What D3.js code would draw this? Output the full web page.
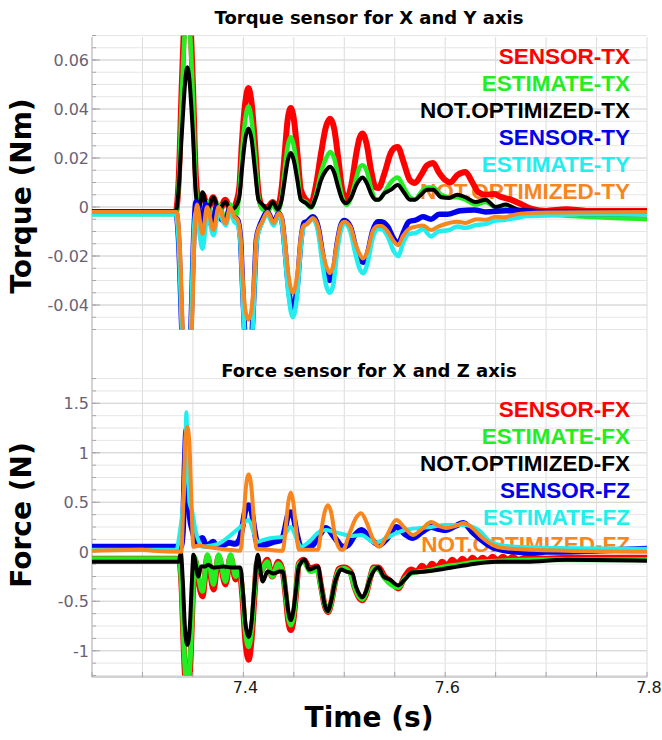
<!DOCTYPE html>
<html>
<head>
<meta charset="utf-8">
<script src="https://cdn.jsdelivr.net/npm/d3@7"></script>
<style>
  body { margin: 0; background: #fff; }
  svg { display: block; }
</style>
</head>
<body>
<svg id="chart"></svg>
<script>
// Torque panel series: [time (s), torque (Nm)]
var sensorTX = [
  [7.250,-0.002],[7.333,-0.002],[7.336,0.012],[7.339,0.05],[7.3445,0.095],[7.350,0.05],[7.353,0.012],
  [7.356,0.002],[7.360,0.005],[7.365,-0.001],[7.370,0.004],[7.376,-0.002],[7.382,0.003],[7.388,-0.002],
  [7.393,0.002],[7.396,0.008],[7.3985,0.026],[7.402,0.043],[7.405,0.0486],[7.408,0.043],[7.4115,0.026],
  [7.415,0.006],[7.419,0.0],[7.424,0.0],[7.429,0.002],[7.434,0.0],[7.438,0.008],[7.441,0.022],
  [7.444,0.036],[7.447,0.0404],[7.450,0.036],[7.4535,0.022],[7.457,0.007],[7.462,0.003],[7.467,0.0016],
  [7.472,0.009],[7.477,0.022],[7.482,0.033],[7.486,0.036],[7.490,0.032],[7.494,0.02],[7.498,0.007],
  [7.502,0.003],[7.507,0.009],[7.512,0.022],[7.515,0.028],[7.518,0.030],[7.522,0.026],[7.527,0.014],
  [7.531,0.008],[7.534,0.0078],[7.540,0.014],[7.546,0.022],[7.550,0.0242],[7.553,0.0245],[7.559,0.018],
  [7.565,0.011],[7.570,0.0098],[7.576,0.013],[7.582,0.017],[7.588,0.018],[7.594,0.014],[7.600,0.011],
  [7.605,0.010],[7.612,0.013],[7.620,0.0143],[7.627,0.010],[7.633,0.006],[7.640,0.005],[7.648,0.0053],
  [7.656,0.004],[7.665,0.003],[7.676,0.001],[7.686,-0.0008],[7.700,-0.0016],[7.720,-0.0009],
  [7.740,-0.0016],[7.800,-0.0016]
];
var estimateTX = [
  [7.250,-0.003],[7.333,-0.003],[7.336,0.01],[7.339,0.045],[7.3445,0.082],[7.350,0.045],[7.353,0.008],
  [7.356,-0.002],[7.3595,-0.006],[7.3644,0.002],[7.3704,-0.006],[7.3754,0.001],[7.3823,-0.005],
  [7.3873,0.001],[7.3923,-0.004],[7.396,0.006],[7.3985,0.021],[7.402,0.036],[7.405,0.041],[7.408,0.036],
  [7.4115,0.021],[7.415,0.004],[7.419,-0.001],[7.424,-0.002],[7.429,0.001],[7.434,-0.002],[7.438,0.004],
  [7.441,0.015],[7.444,0.025],[7.447,0.0286],[7.450,0.025],[7.4535,0.015],[7.457,0.003],[7.462,0.002],
  [7.467,-0.0004],[7.472,0.005],[7.477,0.014],[7.482,0.02],[7.486,0.0225],[7.490,0.02],[7.494,0.012],
  [7.498,0.004],[7.502,0.0008],[7.507,0.004],[7.512,0.012],[7.515,0.016],[7.518,0.017],[7.522,0.015],
  [7.527,0.007],[7.531,0.003],[7.534,0.003],[7.540,0.006],[7.546,0.010],[7.553,0.012],[7.559,0.008],
  [7.565,0.004],[7.570,0.003],[7.576,0.006],[7.582,0.008],[7.588,0.008],[7.596,0.005],[7.604,0.004],
  [7.612,0.004],[7.620,0.003],[7.630,0.001],[7.640,0.002],[7.650,0.0],[7.660,0.0],[7.680,-0.002],
  [7.700,-0.003],[7.740,-0.004],[7.800,-0.005]
];
var notOptTX = [
  [7.250,-0.002],[7.333,-0.002],[7.336,0.008],[7.339,0.03],[7.3445,0.057],[7.350,0.03],[7.353,0.005],
  [7.356,-0.001],[7.3595,0.006],[7.3644,-0.001],[7.3704,0.004],[7.3754,-0.001],[7.3823,0.002],
  [7.3873,-0.001],[7.392,0.0],[7.396,0.004],[7.3985,0.015],[7.402,0.028],[7.405,0.032],[7.408,0.028],
  [7.4115,0.015],[7.415,0.003],[7.419,0.001],[7.424,-0.001],[7.429,0.002],[7.434,-0.001],[7.438,0.003],
  [7.441,0.011],[7.444,0.019],[7.447,0.022],[7.450,0.019],[7.4535,0.011],[7.457,0.003],[7.462,0.0016],
  [7.467,0.0],[7.472,0.004],[7.477,0.011],[7.482,0.015],[7.486,0.0164],[7.490,0.014],[7.494,0.008],
  [7.498,0.003],[7.502,0.0016],[7.507,0.004],[7.512,0.009],[7.515,0.011],[7.518,0.012],[7.522,0.010],
  [7.527,0.005],[7.531,0.003],[7.534,0.003],[7.540,0.0057],[7.546,0.007],[7.553,0.009],[7.559,0.006],
  [7.565,0.003],[7.570,0.003],[7.576,0.005],[7.582,0.007],[7.588,0.007],[7.596,0.004],[7.604,0.0037],
  [7.612,0.005],[7.620,0.004],[7.630,0.002],[7.640,0.003],[7.650,0.0],[7.660,0.001],[7.672,-0.001],
  [7.680,-0.0012],[7.700,-0.002],[7.740,-0.003],[7.800,-0.003]
];
var sensorTY = [
  [7.250,-0.002],[7.333,-0.002],[7.336,-0.015],[7.339,-0.05],[7.3435,-0.09],[7.348,-0.05],[7.351,-0.01],
  [7.353,0.002],[7.357,-0.003],[7.3595,-0.008],[7.3625,0.001],[7.367,-0.006],[7.370,-0.008],[7.373,0.0],
  [7.378,-0.005],[7.3823,-0.006],[7.386,-0.001],[7.390,-0.004],[7.394,-0.005],[7.397,-0.012],
  [7.3995,-0.035],[7.402,-0.055],[7.405,-0.06],[7.408,-0.055],[7.4105,-0.035],[7.413,-0.013],
  [7.416,-0.008],[7.418,-0.006],[7.424,-0.002],[7.430,-0.0065],[7.435,-0.0025],[7.438,-0.005],
  [7.441,-0.016],[7.4445,-0.032],[7.449,-0.042],[7.4535,-0.032],[7.457,-0.014],[7.460,-0.0065],
  [7.463,-0.006],[7.469,-0.004],[7.474,-0.008],[7.478,-0.018],[7.482,-0.027],[7.4855,-0.030],
  [7.489,-0.027],[7.493,-0.015],[7.497,-0.007],[7.500,-0.0055],[7.506,-0.008],[7.511,-0.016],
  [7.515,-0.021],[7.5187,-0.0225],[7.523,-0.019],[7.528,-0.01],[7.533,-0.006],[7.5366,-0.006],
  [7.543,-0.008],[7.549,-0.013],[7.5535,-0.015],[7.558,-0.011],[7.564,-0.006],[7.571,-0.0053],
  [7.578,-0.004],[7.586,-0.005],[7.594,-0.003],[7.602,-0.003],[7.615,-0.0015],[7.629,-0.0012],
  [7.640,-0.002],[7.660,-0.0015],[7.700,-0.002],[7.800,-0.002]
];
var estimateTY = [
  [7.250,-0.003],[7.333,-0.003],[7.336,-0.015],[7.339,-0.05],[7.3435,-0.09],[7.348,-0.05],[7.351,-0.01],
  [7.353,-0.002],[7.3595,-0.017],[7.3645,-0.003],[7.3704,-0.0115],[7.3754,-0.002],[7.3823,-0.0075],
  [7.387,-0.002],[7.391,-0.006],[7.394,-0.007],[7.397,-0.014],[7.3995,-0.038],[7.402,-0.058],
  [7.405,-0.065],[7.408,-0.058],[7.4105,-0.038],[7.413,-0.015],[7.416,-0.009],[7.418,-0.007],
  [7.424,-0.003],[7.430,-0.0075],[7.435,-0.003],[7.438,-0.006],[7.441,-0.018],[7.4445,-0.035],
  [7.449,-0.045],[7.4535,-0.035],[7.457,-0.016],[7.460,-0.008],[7.463,-0.007],[7.469,-0.005],
  [7.474,-0.01],[7.478,-0.022],[7.482,-0.032],[7.4855,-0.035],[7.489,-0.032],[7.493,-0.018],
  [7.497,-0.009],[7.500,-0.0065],[7.506,-0.01],[7.511,-0.019],[7.515,-0.025],[7.5187,-0.027],
  [7.523,-0.023],[7.528,-0.013],[7.533,-0.009],[7.5366,-0.009],[7.543,-0.012],[7.549,-0.018],
  [7.5535,-0.020],[7.558,-0.015],[7.564,-0.011],[7.571,-0.0106],[7.578,-0.009],[7.586,-0.012],
  [7.593,-0.010],[7.604,-0.0094],[7.612,-0.008],[7.620,-0.0085],[7.631,-0.0073],[7.640,-0.007],
  [7.650,-0.0055],[7.658,-0.0053],[7.670,-0.0045],[7.681,-0.0037],[7.700,-0.0035],[7.730,-0.003],
  [7.800,-0.003]
];
var notOptTY = [
  [7.250,-0.002],[7.334,-0.002],[7.337,-0.015],[7.340,-0.05],[7.345,-0.085],[7.349,-0.05],[7.352,-0.008],
  [7.354,0.001],[7.3595,-0.011],[7.364,0.0],[7.3704,-0.0095],[7.3754,0.0],[7.3823,-0.0066],[7.387,0.0],
  [7.391,-0.004],[7.394,-0.005],[7.397,-0.011],[7.3995,-0.03],[7.402,-0.042],[7.405,-0.046],
  [7.408,-0.042],[7.4105,-0.03],[7.413,-0.012],[7.416,-0.008],[7.418,-0.0065],[7.424,-0.002],
  [7.430,-0.0065],[7.435,-0.0025],[7.438,-0.004],[7.441,-0.013],[7.4445,-0.027],[7.449,-0.035],
  [7.4535,-0.027],[7.457,-0.012],[7.460,-0.0075],[7.463,-0.007],[7.469,-0.0045],[7.474,-0.008],
  [7.478,-0.017],[7.482,-0.024],[7.4855,-0.027],[7.489,-0.024],[7.493,-0.014],[7.497,-0.007],
  [7.500,-0.006],[7.506,-0.008],[7.511,-0.015],[7.515,-0.019],[7.5187,-0.021],[7.523,-0.018],
  [7.528,-0.01],[7.533,-0.0078],[7.5366,-0.0078],[7.543,-0.01],[7.549,-0.014],[7.5535,-0.0155],
  [7.558,-0.012],[7.564,-0.009],[7.571,-0.008],[7.578,-0.0075],[7.586,-0.0094],[7.593,-0.008],
  [7.604,-0.0065],[7.612,-0.006],[7.620,-0.0065],[7.631,-0.005],[7.640,-0.0052],[7.650,-0.004],
  [7.658,-0.0042],[7.670,-0.003],[7.681,-0.0025],[7.700,-0.0022],[7.800,-0.002]
];

// Force panel series: [time (s), force (N)]
var sensorFX = [
  [7.250,-0.07],[7.336,-0.07],[7.339,-0.4],[7.341,-1.0],[7.3445,-1.5],[7.348,-1.0],[7.350,-0.4],
  [7.352,-0.08],[7.3555,-0.3],[7.3595,-0.45],[7.3644,-0.05],[7.3704,-0.38],[7.3754,-0.05],
  [7.3823,-0.33],[7.3873,-0.05],[7.3923,-0.28],[7.3963,-0.2],[7.399,-0.45],[7.402,-0.9],[7.4052,-1.09],
  [7.408,-0.9],[7.411,-0.45],[7.4135,-0.12],[7.417,-0.2],[7.4236,-0.08],[7.4286,-0.25],[7.4346,-0.1],
  [7.439,-0.2],[7.442,-0.45],[7.4445,-0.7],[7.447,-0.79],[7.4495,-0.7],[7.452,-0.45],[7.455,-0.12],
  [7.460,-0.08],[7.466,-0.17],[7.473,-0.15],[7.477,-0.35],[7.481,-0.56],[7.484,-0.61],[7.487,-0.52],
  [7.491,-0.3],[7.495,-0.17],[7.500,-0.16],[7.506,-0.2],[7.510,-0.35],[7.5145,-0.46],[7.518,-0.49],
  [7.5215,-0.43],[7.526,-0.25],[7.529,-0.16],[7.534,-0.16],[7.540,-0.25],[7.546,-0.3],[7.5535,-0.37],
  [7.560,-0.25],[7.566,-0.18],[7.572,-0.2],[7.577,-0.14],[7.582,-0.18],[7.587,-0.12],[7.592,-0.16],
  [7.597,-0.1],[7.602,-0.14],[7.607,-0.08],[7.612,-0.12],[7.617,-0.07],[7.622,-0.11],[7.627,-0.06],
  [7.632,-0.1],[7.637,-0.06],[7.642,-0.09],[7.647,-0.05],[7.652,-0.09],[7.657,-0.05],[7.662,-0.08],
  [7.667,-0.05],[7.672,-0.08],[7.680,-0.06],[7.700,-0.07],[7.720,-0.06],[7.760,-0.06],[7.800,-0.06]
];
var estimateFX = [
  [7.250,-0.07],[7.336,-0.07],[7.339,-0.4],[7.341,-0.95],[7.3445,-1.35],[7.348,-0.95],[7.350,-0.4],
  [7.352,-0.06],[7.3555,-0.25],[7.3595,-0.4],[7.3644,-0.03],[7.3704,-0.33],[7.3754,-0.03],
  [7.3823,-0.3],[7.3873,-0.03],[7.3923,-0.25],[7.3963,-0.18],[7.399,-0.4],[7.402,-0.8],[7.4052,-0.96],
  [7.408,-0.8],[7.411,-0.4],[7.4135,-0.12],[7.417,-0.2],[7.4236,-0.1],[7.4286,-0.25],[7.4346,-0.12],
  [7.439,-0.2],[7.442,-0.43],[7.4445,-0.66],[7.447,-0.74],[7.4495,-0.66],[7.452,-0.43],[7.455,-0.12],
  [7.460,-0.1],[7.466,-0.2],[7.473,-0.18],[7.477,-0.36],[7.481,-0.55],[7.484,-0.6],[7.487,-0.52],
  [7.491,-0.3],[7.495,-0.18],[7.500,-0.17],[7.506,-0.22],[7.510,-0.35],[7.5145,-0.45],[7.518,-0.48],
  [7.5215,-0.42],[7.526,-0.25],[7.529,-0.17],[7.534,-0.18],[7.540,-0.27],[7.546,-0.33],[7.5535,-0.36],
  [7.560,-0.27],[7.566,-0.22],[7.575,-0.2],[7.585,-0.19],[7.595,-0.16],[7.605,-0.14],[7.615,-0.13],
  [7.625,-0.11],[7.640,-0.1],[7.660,-0.09],[7.700,-0.08],[7.800,-0.08]
];
var notOptFX = [
  [7.250,-0.1],[7.336,-0.1],[7.338,-0.01],[7.340,-0.3],[7.342,-0.75],[7.3445,-0.94],[7.347,-0.75],
  [7.349,-0.3],[7.3505,-0.03],[7.3555,-0.25],[7.358,-0.15],[7.362,-0.15],[7.365,-0.13],[7.370,-0.16],
  [7.380,-0.15],[7.390,-0.16],[7.397,-0.16],[7.3995,-0.4],[7.402,-0.72],[7.4052,-0.86],[7.408,-0.72],
  [7.411,-0.35],[7.4142,-0.03],[7.4191,-0.3],[7.424,-0.2],[7.430,-0.22],[7.436,-0.2],[7.439,-0.2],
  [7.442,-0.4],[7.4445,-0.6],[7.447,-0.69],[7.4495,-0.6],[7.452,-0.4],[7.455,-0.15],[7.461,-0.08],
  [7.465,-0.18],[7.4739,-0.15],[7.477,-0.33],[7.481,-0.55],[7.4838,-0.6],[7.487,-0.5],[7.491,-0.3],
  [7.494,-0.22],[7.4968,-0.18],[7.502,-0.2],[7.508,-0.22],[7.5115,-0.35],[7.515,-0.43],[7.518,-0.46],
  [7.5215,-0.4],[7.526,-0.26],[7.5336,-0.16],[7.539,-0.25],[7.545,-0.28],[7.5535,-0.34],[7.560,-0.28],
  [7.567,-0.21],[7.580,-0.2],[7.595,-0.18],[7.612,-0.15],[7.630,-0.12],[7.650,-0.1],[7.680,-0.1],
  [7.720,-0.08],[7.800,-0.09]
];
var sensorFZ = [
  [7.250,0.05],[7.338,0.05],[7.340,0.2],[7.342,0.9],[7.3435,1.23],[7.345,0.9],[7.347,0.35],[7.350,0.2],
  [7.353,0.1],[7.356,0.12],[7.3595,0.14],[7.363,0.06],[7.367,0.08],[7.370,0.1],[7.374,0.06],
  [7.380,0.07],[7.386,0.09],[7.392,0.08],[7.396,0.12],[7.399,0.25],[7.402,0.42],[7.4052,0.47],
  [7.408,0.42],[7.411,0.22],[7.414,0.08],[7.420,0.07],[7.430,0.1],[7.438,0.12],[7.441,0.22],
  [7.444,0.36],[7.447,0.4],[7.450,0.34],[7.453,0.18],[7.457,0.05],[7.462,0.04],[7.468,0.06],
  [7.476,0.18],[7.482,0.24],[7.490,0.15],[7.499,0.05],[7.504,0.07],[7.510,0.16],[7.517,0.22],
  [7.526,0.13],[7.535,0.07],[7.542,0.13],[7.5515,0.25],[7.560,0.18],[7.568,0.14],[7.577,0.2],
  [7.586,0.25],[7.594,0.23],[7.601,0.22],[7.610,0.26],[7.618,0.29],[7.627,0.2],[7.636,0.12],
  [7.646,0.05],[7.656,0.02],[7.670,0.0],[7.686,-0.01],[7.700,0.0],[7.715,0.0],[7.750,0.01],[7.800,0.03]
];
var estimateFZ = [
  [7.250,0.02],[7.3336,0.02],[7.337,0.2],[7.3405,0.52],[7.342,0.8],[7.3435,1.41],[7.345,0.9],
  [7.3465,0.5],[7.3495,0.4],[7.3525,0.22],[7.356,0.1],[7.360,0.05],[7.366,0.06],[7.375,0.08],
  [7.384,0.14],[7.397,0.25],[7.4052,0.32],[7.410,0.2],[7.414,0.1],[7.420,0.12],[7.428,0.14],
  [7.439,0.15],[7.447,0.25],[7.452,0.15],[7.457,0.05],[7.465,0.1],[7.475,0.2],[7.482,0.22],
  [7.490,0.2],[7.498,0.18],[7.507,0.16],[7.5167,0.17],[7.525,0.12],[7.5306,0.09],[7.540,0.13],
  [7.550,0.18],[7.560,0.22],[7.575,0.24],[7.586,0.25],[7.600,0.27],[7.618,0.27],[7.633,0.22],
  [7.645,0.1],[7.654,0.07],[7.670,0.05],[7.700,0.04],[7.800,0.03]
];
var notOptFZ = [
  [7.250,0.01],[7.300,0.02],[7.310,0.01],[7.3385,0.0],[7.3405,0.5],[7.3425,1.1],[7.3445,1.26],
  [7.3465,1.1],[7.3485,0.5],[7.3505,0.05],[7.355,0.06],[7.370,0.04],[7.385,0.02],[7.397,0.01],
  [7.400,0.3],[7.4025,0.65],[7.4052,0.78],[7.408,0.65],[7.4105,0.3],[7.413,0.03],[7.425,0.02],
  [7.439,0.01],[7.442,0.25],[7.4445,0.5],[7.447,0.6],[7.4495,0.5],[7.452,0.25],[7.455,0.02],
  [7.4739,0.02],[7.477,0.2],[7.4805,0.4],[7.4838,0.47],[7.487,0.4],[7.491,0.15],[7.4968,0.02],
  [7.4988,0.02],[7.505,0.18],[7.5115,0.34],[7.5167,0.39],[7.522,0.3],[7.528,0.14],[7.5346,0.05],
  [7.543,0.18],[7.5515,0.32],[7.560,0.24],[7.568,0.17],[7.577,0.23],[7.586,0.3],[7.594,0.26],
  [7.601,0.24],[7.610,0.26],[7.618,0.29],[7.627,0.24],[7.636,0.15],[7.647,0.07],[7.656,0.04],
  [7.686,0.02],[7.720,0.01],[7.800,0.0]
];

var torqueLabels = ["SENSOR-TX", "ESTIMATE-TX", "NOT.OPTIMIZED-TX", "SENSOR-TY", "ESTIMATE-TY", "NOT.OPTIMIZED-TY"];
var forceLabels = ["SENSOR-FX", "ESTIMATE-FX", "NOT.OPTIMIZED-FX", "SENSOR-FZ", "ESTIMATE-FZ", "NOT.OPTIMIZED-FZ"];
var torqueTicks = [-0.04, -0.02, 0, 0.02, 0.04, 0.06];
var forceTicks = [-1, -0.5, 0, 0.5, 1, 1.5];
var timeTicks = [7.4, 7.6, 7.8];

var colors = ["#ff0000", "#22ee22", "#000000", "#0000ee", "#22eeee", "#f7861f"];

w = 662;
h = 740;
left = 92;
right = 647;

var svg = d3.select('#chart').attr('width', w).attr('height', h);

var x = d3.scaleLinear().domain([7.25, 7.8]).range([left, right]);

var panels = [
  {
    title: "Torque sensor for X and Y axis", titleY: 24,
    yLabel: "Torque (Nm)", yLabelY: 196,
    y: d3.scaleLinear().domain([-0.05, 0.07]).range([329.5, 35.5]),
    minor: 0.005, ticks: torqueTicks,
    series: [sensorTX, estimateTX, notOptTX, sensorTY, estimateTY, notOptTY],
    widths: [6, 4.5, 4, 5.5, 4.5, 4],
    labels: torqueLabels, legendY: 64
  },
  {
    title: "Force sensor for X and Z axis", titleY: 377,
    yLabel: "Force (N)", yLabelY: 515,
    y: d3.scaleLinear().domain([-1.25, 1.7]).range([675.5, 383.5]),
    minor: 0.125, ticks: forceTicks,
    series: [sensorFX, estimateFX, notOptFX, sensorFZ, estimateFZ, notOptFZ],
    widths: [6, 5, 4, 6, 4, 4],
    labels: forceLabels, legendY: 417
  }
];

// vertical grid, runs through both panels
var gridTimes = d3.range(7.3, 7.801, 0.05);
svg.selectAll('line.vgrid').data(gridTimes).enter()
  .append('line')
  .attr('x1', function(d) { return x(d); })
  .attr('x2', function(d) { return x(d); })
  .attr('y1', 37).attr('y2', 677)
  .attr('stroke', '#dcdcdc').attr('stroke-width', 1);

// left axis line
svg.append('line')
  .attr('x1', left).attr('x2', left).attr('y1', 37).attr('y2', 677)
  .attr('stroke', '#b8b4bc').attr('stroke-width', 1.2);

panels.forEach(function(p, k) {
  var y = p.y;
  var dom = y.domain();
  var minors = d3.range(dom[0], dom[1] + p.minor / 2, p.minor);

  svg.append('g').selectAll('line').data(minors).enter()
    .append('line')
    .attr('x1', left).attr('x2', right)
    .attr('y1', function(d) { return y(d); })
    .attr('y2', function(d) { return y(d); })
    .attr('stroke', '#e6e6e6').attr('stroke-width', 1);

  svg.append('g').selectAll('line').data(p.ticks).enter()
    .append('line')
    .attr('x1', left).attr('x2', right)
    .attr('y1', function(d) { return y(d); })
    .attr('y2', function(d) { return y(d); })
    .attr('stroke', '#d4d4d4').attr('stroke-width', 1);

  // inward ticks on the left axis
  svg.append('g').selectAll('line').data(minors).enter()
    .append('line')
    .attr('x1', left).attr('x2', left + 4)
    .attr('y1', function(d) { return y(d); })
    .attr('y2', function(d) { return y(d); })
    .attr('stroke', '#a8a4ac').attr('stroke-width', 1);
  svg.append('g').selectAll('line').data(p.ticks).enter()
    .append('line')
    .attr('x1', left).attr('x2', left + 8)
    .attr('y1', function(d) { return y(d); })
    .attr('y2', function(d) { return y(d); })
    .attr('stroke', '#a8a4ac').attr('stroke-width', 1);

  svg.append('g').selectAll('text').data(p.ticks).enter()
    .append('text')
    .attr('x', left - 3)
    .attr('y', function(d) { return y(d); })
    .attr('dy', '0.36em')
    .attr('text-anchor', 'end')
    .attr('font-family', 'DejaVu Sans')
    .attr('font-size', 16)
    .attr('fill', '#6a6274')
    .text(function(d) { return String(d); });

  svg.append('text')
    .attr('x', 369).attr('y', p.titleY)
    .attr('text-anchor', 'middle')
    .attr('font-family', 'DejaVu Sans').attr('font-weight', 'bold')
    .attr('font-size', 18)
    .text(p.title);

  svg.append('text')
    .attr('transform', 'translate(31,' + p.yLabelY + ') rotate(-90)')
    .attr('text-anchor', 'middle')
    .attr('font-family', 'DejaVu Sans').attr('font-weight', 'bold')
    .attr('font-size', 28)
    .text(p.yLabel);

  // legend
  svg.append('g').selectAll('text').data(p.labels).enter()
    .append('text')
    .attr('x', 630)
    .attr('y', function(d, i) { return p.legendY + i * 26.9; })
    .attr('text-anchor', 'end')
    .attr('font-family', 'Liberation Sans').attr('font-weight', 'bold')
    .attr('font-size', 22.5)
    .attr('fill', function(d, i) { return colors[i]; })
    .text(function(d) { return d; });

  // data lines
  var r = y.range();
  svg.append('clipPath').attr('id', 'clip' + k)
    .append('rect')
    .attr('x', left).attr('y', r[1])
    .attr('width', right - left).attr('height', r[0] - r[1]);

  var line = d3.line()
    .x(function(d) { return x(d[0]); })
    .y(function(d) { return y(d[1]); })
    .curve(d3.curveMonotoneX);

  svg.append('g').attr('clip-path', 'url(#clip' + k + ')')
    .selectAll('path').data(p.series).enter()
    .append('path')
    .attr('d', line)
    .attr('fill', 'none')
    .attr('stroke', function(d, i) { return colors[i]; })
    .attr('stroke-width', function(d, i) { return p.widths[i]; })
    .attr('stroke-linejoin', 'round');
});

// bottom time axis
svg.append('line')
  .attr('x1', left).attr('x2', right).attr('y1', 677).attr('y2', 677)
  .attr('stroke', '#a8a4ac').attr('stroke-width', 1.2);
svg.append('g').selectAll('line').data(d3.range(7.25, 7.801, 0.05)).enter()
  .append('line')
  .attr('x1', function(d) { return x(d); })
  .attr('x2', function(d) { return x(d); })
  .attr('y1', 677).attr('y2', 672)
  .attr('stroke', '#a8a4ac').attr('stroke-width', 1);
svg.append('g').selectAll('text').data(timeTicks).enter()
  .append('text')
  .attr('x', function(d) { return x(d) + 2; })
  .attr('y', 693)
  .attr('text-anchor', 'middle')
  .attr('font-family', 'DejaVu Sans')
  .attr('font-size', 16)
  .attr('fill', '#1a1a1a')
  .text(function(d) { return String(d); });

svg.append('text')
  .attr('x', 369).attr('y', 727)
  .attr('text-anchor', 'middle')
  .attr('font-family', 'DejaVu Sans').attr('font-weight', 'bold')
  .attr('font-size', 28)
  .text('Time (s)');
</script>
</body>
</html>
